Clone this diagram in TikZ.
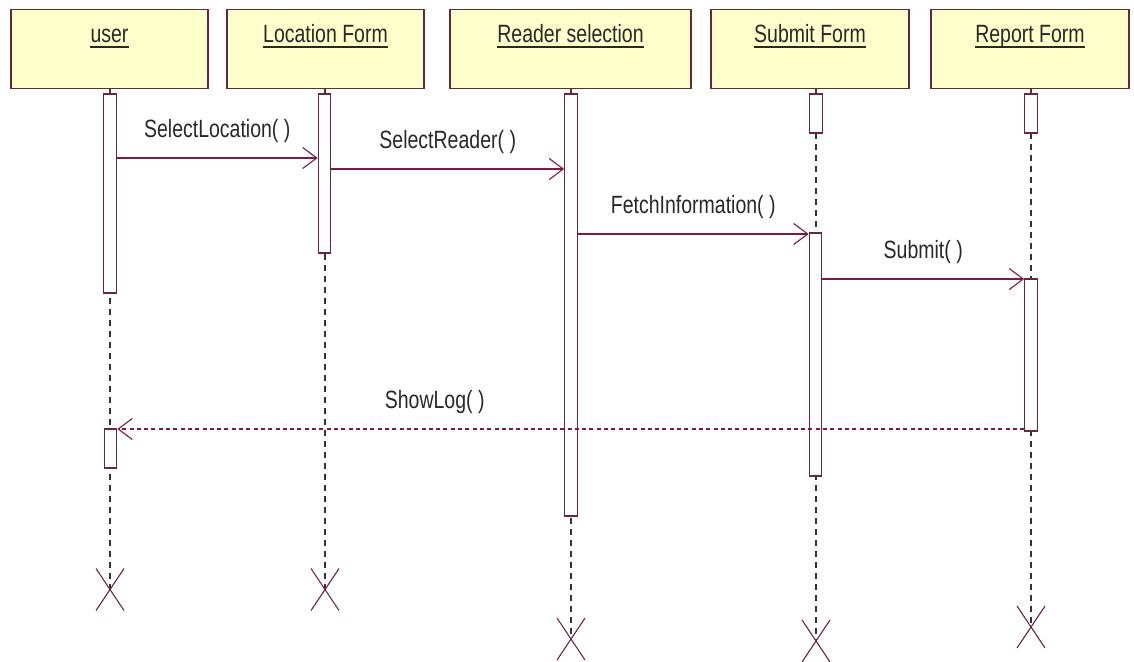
\documentclass[tikz,border=0pt]{standalone}
\usepackage{fontspec}
\setmainfont{Liberation Sans}[FakeStretch=0.78]
\usetikzlibrary{arrows.meta}
\definecolor{boxfill}{RGB}{255,255,204}
\definecolor{edge}{RGB}{105,40,55}
\definecolor{msg}{RGB}{125,25,70}
\definecolor{ink}{RGB}{40,40,40}
\begin{document}
\begin{tikzpicture}[x=1pt,y=-1pt,
  font=\fontsize{25}{30}\selectfont,
  header/.style={draw=edge, fill=boxfill, line width=1.3pt, minimum height=79pt, inner sep=0pt},
  title/.style={anchor=base, inner sep=0pt, text=ink},
  uline/.style={draw=ink, line width=1.2pt},
  bar/.style={draw=edge, fill=white, line width=1.2pt, minimum width=12.5pt, inner sep=0pt},
  stub/.style={draw=edge, line width=1.2pt},
  lifeline/.style={draw=black!80, line width=1.4pt, dash pattern=on 6pt off 5pt},
  call/.style={draw=msg, line width=1.2pt, -{Straight Barb[length=14pt,width=21pt,line width=1.1pt]}},
  reply/.style={call, dash pattern=on 4pt off 3.3pt},
  lbl/.style={anchor=base, inner sep=0pt, text=ink},
  killmark/.style={draw=edge, line width=1.1pt}
]
\useasboundingbox (0,0) rectangle (1134,661);

% object headers
\node[header, minimum width=197pt] (hu) at (109.5,49) {};
\node[header, minimum width=197pt] (hl) at (325.5,49) {};
\node[header, minimum width=241pt] (hr) at (570.5,49) {};
\node[header, minimum width=198pt] (hs) at (810,49) {};
\node[header, minimum width=198pt] (hp) at (1030,49) {};

\node[title] (tu) at (109.5,43) {user};
\node[title] (tl) at (325.5,43) {Location Form};
\node[title] (tr) at (570.5,43) {Reader selection};
\node[title] (ts) at (810,43) {Submit Form};
\node[title] (tp) at (1030,43) {Report Form};
\foreach \t in {tu,tl,tr,ts,tp}
  \draw[uline] ([yshift=-4pt]\t.base west) -- ([yshift=-4pt]\t.base east);

% end points of the lifelines
\coordinate (xu) at (110,589.5);
\coordinate (xl) at (325,589.5);
\coordinate (xr) at (571,639);
\coordinate (xs) at (816,641);
\coordinate (xp) at (1031,627);

% lifelines
\draw[lifeline] (hu.south -| xu) -- (xu);
\draw[lifeline] (hl.south -| xl) -- (xl);
\draw[lifeline] (hr.south -| xr) -- (xr);
\draw[lifeline] (hs.south -| xs) -- (xs);
\draw[lifeline] (hp.south -| xp) -- (xp);

% activation bars
\node[bar, minimum height=199pt] (u1) at (110,193.5) {};
\node[bar, minimum height=39pt]  (u2) at (110.5,448.5) {};
\node[bar, minimum height=159pt] (l1) at (324.5,173.5) {};
\node[bar, minimum height=422pt] (r1) at (571,305) {};
\node[bar, minimum height=39pt]  (s1) at (816,113.5) {};
\node[bar, minimum height=243pt] (s2) at (815.5,354.5) {};
\node[bar, minimum height=39pt]  (p1) at (1031,113.5) {};
\node[bar, minimum height=152pt] (p2) at (1031,355) {};

% short solid links from the headers to the first bars
\draw[stub] (hu.south -| u1) -- (u1.north);
\draw[stub] (hl.south -| l1) -- (l1.north);
\draw[stub] (hr.south -| r1) -- (r1.north);
\draw[stub] (hs.south -| s1) -- (s1.north);
\draw[stub] (hp.south -| p1) -- (p1.north);

% messages
\coordinate (m1) at (0,158);
\coordinate (m2) at (0,169);
\coordinate (m3) at (0,234);
\coordinate (m4) at (0,279);
\coordinate (m5) at (0,429);
\draw[call] (u1.east |- m1) -- (l1.west |- m1)
  node[lbl, pos=0.5, yshift=21pt] {SelectLocation( )};
\draw[call] (l1.east |- m2) -- (r1.west |- m2)
  node[lbl, pos=0.5, yshift=21pt] {SelectReader( )};
\draw[call] (r1.east |- m3) -- (s2.west |- m3)
  node[lbl, pos=0.5, yshift=21pt] {FetchInformation( )};
\draw[call] (s2.east |- m4) -- (p2.west |- m4)
  node[lbl, pos=0.5, yshift=21pt] {Submit( )};
\draw[reply] (p2.west |- m5) -- (u2.east |- m5)
  node[lbl, pos=0.65, yshift=21pt] {ShowLog( )};

% destruction marks
\foreach \c in {xu,xl,xr,xs,xp}
  \draw[killmark] ([shift={(-14,-21)}]\c) -- ([shift={(14,21)}]\c)
                  ([shift={(14,-21)}]\c) -- ([shift={(-14,21)}]\c);
\end{tikzpicture}
\end{document}
